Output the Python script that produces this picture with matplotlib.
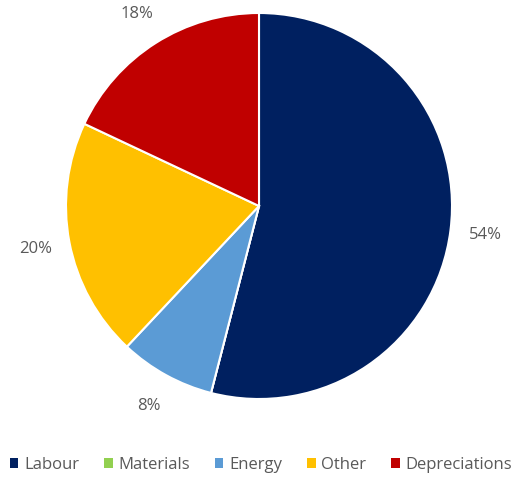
import matplotlib.pyplot as plt
from matplotlib.patches import Patch

categories = ["Labour", "Materials", "Energy", "Other", "Depreciations"]
shares = [54, 0, 8, 20, 18]
colors = ["#002060", "#92D050", "#5B9BD5", "#FFC000", "#C00000"]

plt.rcParams["font.family"] = ["Open Sans", "DejaVu Sans"]

fig = plt.figure(figsize=(5.12, 4.82), dpi=100)
# pie centred at (259, 206) px with radius ~193 px
ax = fig.add_axes([66 / 512, (482 - 399) / 482, 386 / 512, 386 / 482])

ax.pie(
    shares,
    colors=colors,
    startangle=90,
    counterclock=False,
    autopct=lambda p: f"{p:.0f}%" if p > 0 else "",
    pctdistance=1.18,
    textprops={"color": "#595959", "fontsize": 12},
    wedgeprops={"edgecolor": "white", "linewidth": 1.5},
    radius=1,
)
ax.set_xlim(-1, 1)
ax.set_ylim(-1, 1)
ax.set_aspect("auto")
ax.axis("off")

handles = [Patch(facecolor=c, edgecolor="none") for c in colors]
fig.legend(
    handles,
    categories,
    loc="center",
    bbox_to_anchor=(0.51, 1 - 465 / 482),
    ncol=5,
    frameon=False,
    fontsize=12,
    handlelength=0.5,
    handleheight=0.5,
    handletextpad=0.35,
    columnspacing=1.5,
    borderpad=0,
    borderaxespad=0,
    labelcolor="#595959",
)

fig.savefig("out.png", dpi=100)
